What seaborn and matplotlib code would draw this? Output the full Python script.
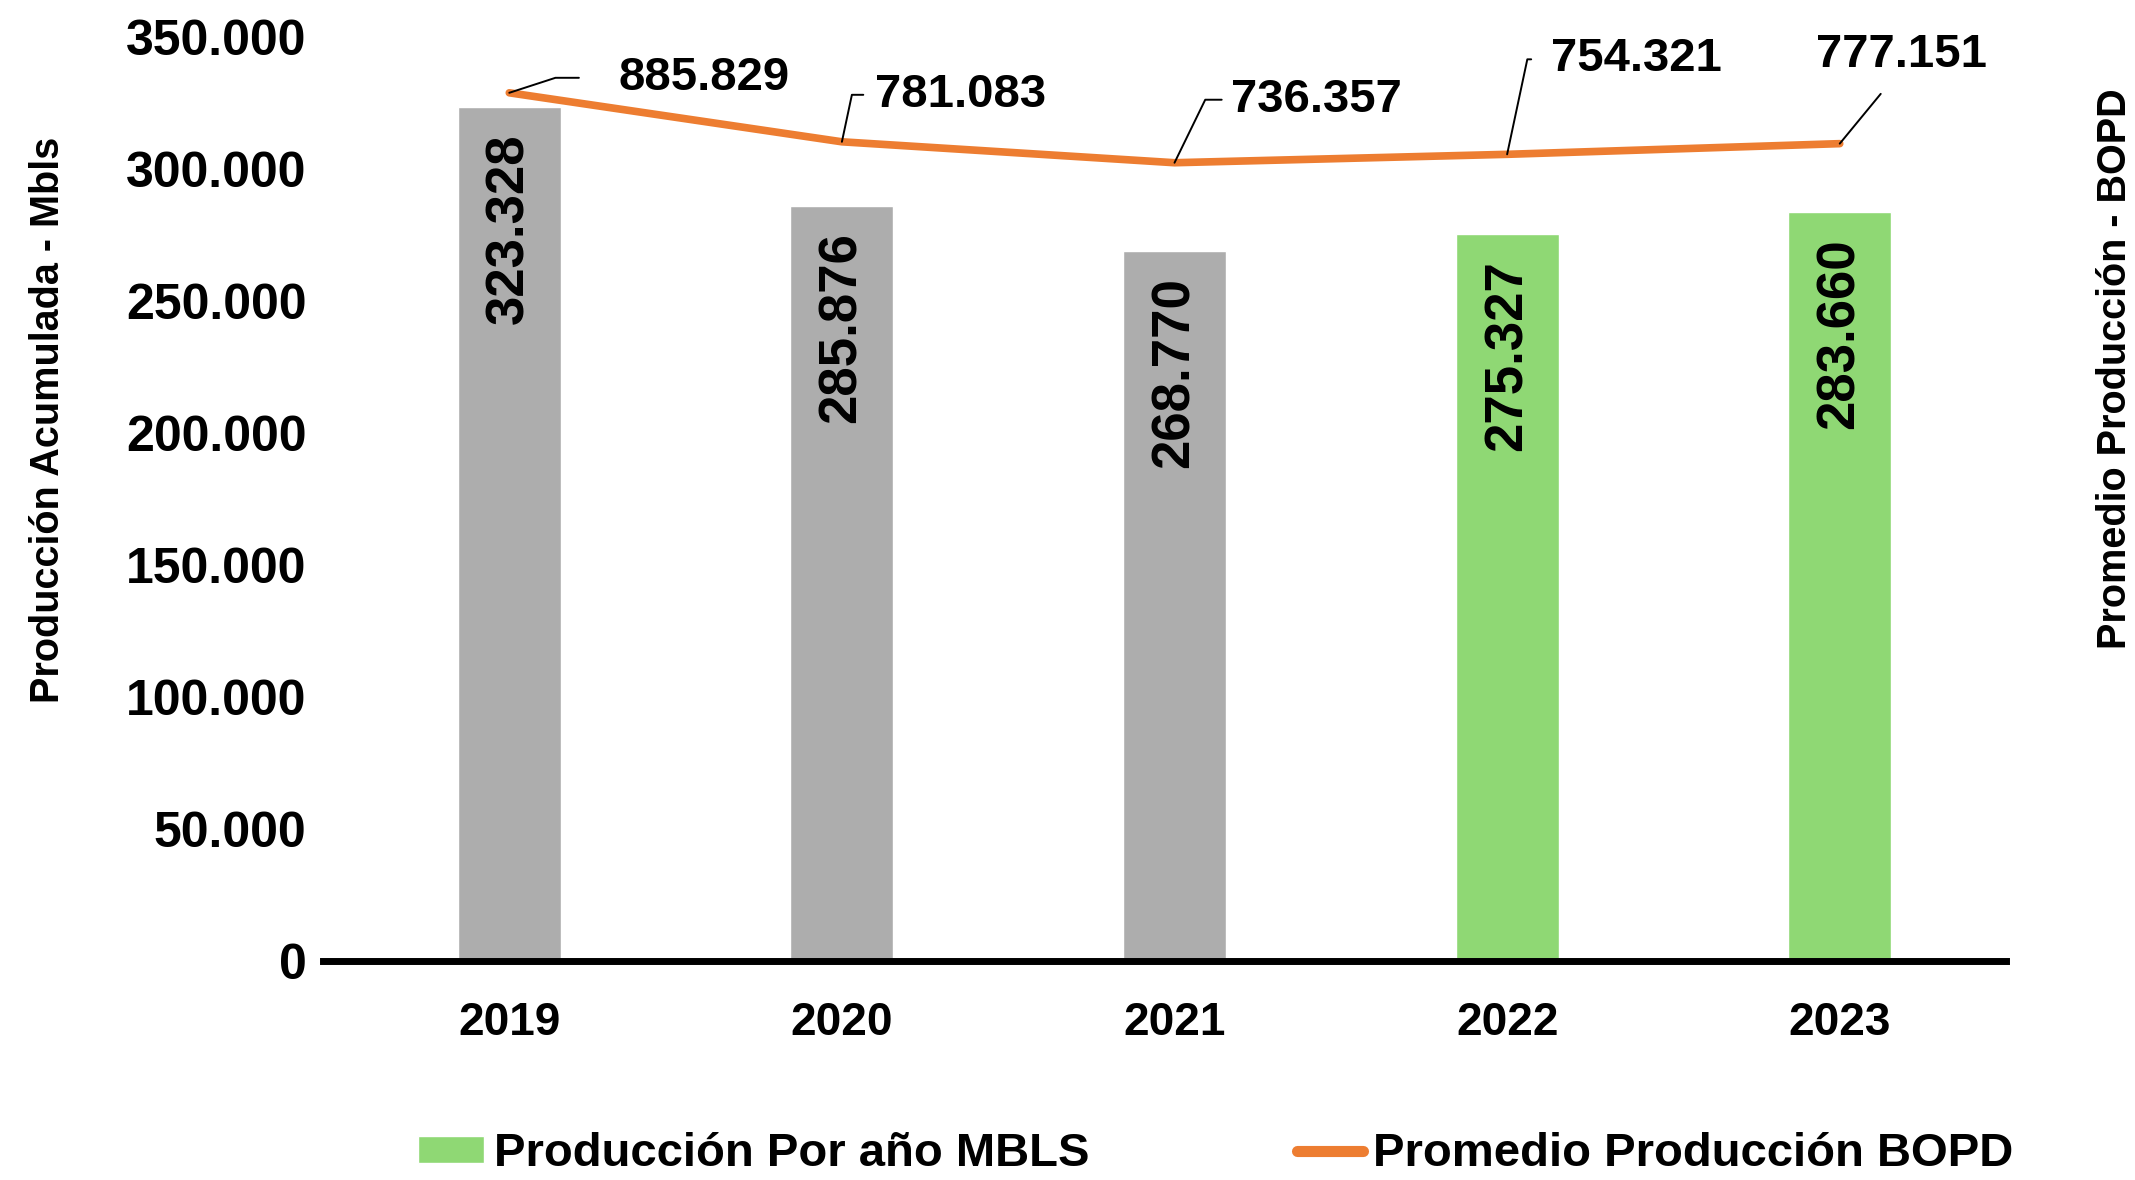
import pandas as pd
import seaborn as sns
import matplotlib.pyplot as plt
from matplotlib.patches import Patch
from matplotlib.lines import Line2D
from matplotlib.ticker import FuncFormatter

# Datos ---------------------------------------------------------------
years = ["2019", "2020", "2021", "2022", "2023"]
produccion_mbls = [323328, 285876, 268770, 275327, 283660]
promedio_bopd = [885829, 781083, 736357, 754321, 777151]
bar_colors = ["#ADADAD", "#ADADAD", "#ADADAD", "#8FD874", "#8FD874"]
y_ticks = [0, 50000, 100000, 150000, 200000, 250000, 300000, 350000]
line_color = "#ED7D31"


def miles(v, pos=None):
    # formato con punto como separador de miles
    return f"{v:,.0f}".replace(",", ".")


df = pd.DataFrame({"Año": years, "Produccion": produccion_mbls, "Promedio": promedio_bopd})

sns.set_theme(style="white")
plt.rcParams["font.family"] = ["Liberation Sans", "DejaVu Sans"]
plt.rcParams["font.weight"] = "bold"
plt.rcParams["text.color"] = "black"
plt.rcParams["axes.labelcolor"] = "black"
plt.rcParams["xtick.color"] = "black"
plt.rcParams["ytick.color"] = "black"

fig = plt.figure(figsize=(21.35, 11.8), dpi=100)
ax = fig.add_axes([0.1513, 0.1856, 0.7883, 0.783])

# Barras de producción acumulada
sns.barplot(data=df, x="Año", y="Produccion", hue="Año", palette=bar_colors,
            legend=False, width=0.31, saturation=1, ax=ax)
ax.set_ylim(0, 350000)
ax.set_yticks(y_ticks)
ax.yaxis.set_major_formatter(FuncFormatter(miles))
ax.set_xlim(-0.56, 4.5)
ax.set_xlabel("")
ax.set_ylabel("")
for s in ["top", "left", "right"]:
    ax.spines[s].set_visible(False)
ax.spines["bottom"].set_linewidth(5)
ax.spines["bottom"].set_color("black")
ax.tick_params(axis="y", length=0, pad=12, labelsize=36, labelcolor="black")
ax.tick_params(axis="x", length=0, pad=29, labelsize=33, labelcolor="black")

# etiquetas verticales dentro de las barras
for yr, v in zip(years, produccion_mbls):
    ax.annotate(miles(v), xy=(yr, v), xytext=(0, -26), textcoords="offset pixels",
                rotation=90, ha="center", va="top", fontsize=38, fontweight="bold",
                color="black")

# Línea de promedio en eje secundario
ax2 = ax.twinx()
sns.lineplot(data=df, x="Año", y="Promedio", color=line_color, lw=5.5, ax=ax2)
ax2.set_ylim(-970000, 1005000)
ax2.set_yticks([])
ax2.set_ylabel("")
for s in ax2.spines.values():
    s.set_visible(False)

# etiquetas con líneas guía (dx, dy, ha, relpos, conexión, shrinkA)
leaders = [
    (109, 15, "left", (0, 0.5), "angle,angleA=180,angleB=18,rad=0", 26),
    (33, 47, "left", (0, 0.5), "angle,angleA=180,angleB=78,rad=0", 6),
    (56, 63, "left", (0, 0.5), "angle,angleA=180,angleB=64,rad=0", 4),
    (44, 95, "left", (0, 0.5), "angle,angleA=180,angleB=78,rad=0", 12),
    (62, 89, "center", (0.46, 0), "arc3", 13),
]
for yr, v, (dx, dy, ha, rp, cs, sa) in zip(years, promedio_bopd, leaders):
    ax2.annotate(miles(v), xy=(yr, v), xytext=(dx, dy), textcoords="offset pixels",
                 ha=ha, va="center", fontsize=34, fontweight="bold", color="black",
                 arrowprops=dict(arrowstyle="-", color="black", lw=1.4,
                                 shrinkA=sa, shrinkB=0, connectionstyle=cs, relpos=rp))

# Títulos de ejes
ax.text(-0.1634, 0.5855, "Producción Acumulada - Mbls", transform=ax.transAxes,
        rotation=90, ha="center", va="center", fontsize=28.5, fontweight="bold")
ax.text(1.0648, 0.6407, "Promedio Producción - BOPD", transform=ax.transAxes,
        rotation=90, ha="center", va="center", fontsize=28.5, fontweight="bold")

# Leyenda
handles = [Patch(facecolor=bar_colors[-1], label="Producción Por año MBLS"),
           Line2D([], [], color=line_color, lw=8, label="Promedio Producción BOPD")]
fig.legend(handles=handles, loc="center", bbox_to_anchor=(0.5694, 0.022), ncol=2,
           frameon=False, prop={"weight": "bold", "size": 34}, handlelength=1.4,
           handleheight=0.5, handletextpad=0.2, columnspacing=4.4)

fig.savefig("out.png", dpi=100)
